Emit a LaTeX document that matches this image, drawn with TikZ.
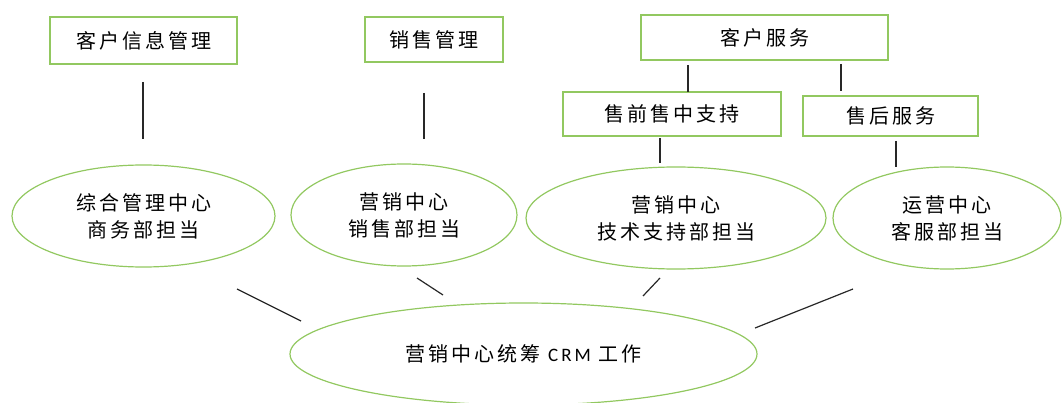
\documentclass[tikz,border=0pt]{standalone}
\usepackage{fontspec}
\setmainfont{Noto Sans CJK SC}[LetterSpace=15]
\newfontfamily\latf{Carlito}[LetterSpace=16]
\usetikzlibrary{shapes.geometric}
\definecolor{grn}{RGB}{146,200,96}
\definecolor{lnk}{RGB}{40,40,40}
\begin{document}
\begin{tikzpicture}[x=1pt,y=-1pt,
  every node/.style={font=\fontsize{20}{27}\selectfont, inner sep=0pt, align=center},
  box/.style={draw=grn, line width=1.4pt, rectangle},
  ell/.style={draw=grn, line width=1.2pt, ellipse},
  conn/.style={draw=lnk, line width=1.2pt}]
\useasboundingbox (0,0) rectangle (1062,403);
% boxes
\node[box, minimum width=187pt, minimum height=47pt] (b1) at (143.5,40.5) {客户信息管理};
\node[box, minimum width=138pt, minimum height=45pt] (b2) at (434,39.5) {销售管理};
\node[box, minimum width=247pt, minimum height=45pt] (b3) at (764.5,37.5) {客户服务};
\node[box, minimum width=218pt, minimum height=44pt] (b4) at (672,114) {售前售中支持};
\node[box, minimum width=175pt, minimum height=40pt] (b5) at (890.5,116) {售后服务};
% ellipses
\node[ell, minimum width=263pt, minimum height=102pt] (e1) at (143.5,216) {综合管理中心\\商务部担当};
\node[ell, minimum width=226pt, minimum height=102pt] (e2) at (404,215) {营销中心\\销售部担当};
\node[ell, minimum width=300pt, minimum height=102pt] (e3) at (676,218) {营销中心\\技术支持部担当};
\node[ell, minimum width=228pt, minimum height=102pt] (e4) at (947,218) {运营中心\\客服部担当};
\node[ell, minimum width=467pt, minimum height=102pt] (e5) at (523.5,354) {营销中心统筹 {\latf\fontsize{19}{27}\selectfont CRM} 工作};
% connector end points
\coordinate (v1a) at (143,82);  \coordinate (v1b) at (143,139);
\coordinate (v2a) at (424,93);  \coordinate (v2b) at (424,139);
\coordinate (v3a) at (688,65);  \coordinate (v3b) at (688,92);
\coordinate (v4a) at (841,64);  \coordinate (v4b) at (841,91);
\coordinate (v5a) at (660,138); \coordinate (v5b) at (660,163);
\coordinate (v6a) at (896,141); \coordinate (v6b) at (896,167);
\coordinate (d1a) at (237,289); \coordinate (d1b) at (301,321);
\coordinate (d2a) at (417,278); \coordinate (d2b) at (443,295);
\coordinate (d3a) at (660,278); \coordinate (d3b) at (643,296);
\coordinate (d4a) at (853,289); \coordinate (d4b) at (755,328);
\draw[conn] (v1a) -- (v1b);
\draw[conn] (v2a) -- (v2b);
\draw[conn] (v3a) -- (v3b);
\draw[conn] (v4a) -- (v4b);
\draw[conn] (v5a) -- (v5b);
\draw[conn] (v6a) -- (v6b);
\draw[conn] (d1a) -- (d1b);
\draw[conn] (d2a) -- (d2b);
\draw[conn] (d3a) -- (d3b);
\draw[conn] (d4a) -- (d4b);
\end{tikzpicture}
\end{document}
